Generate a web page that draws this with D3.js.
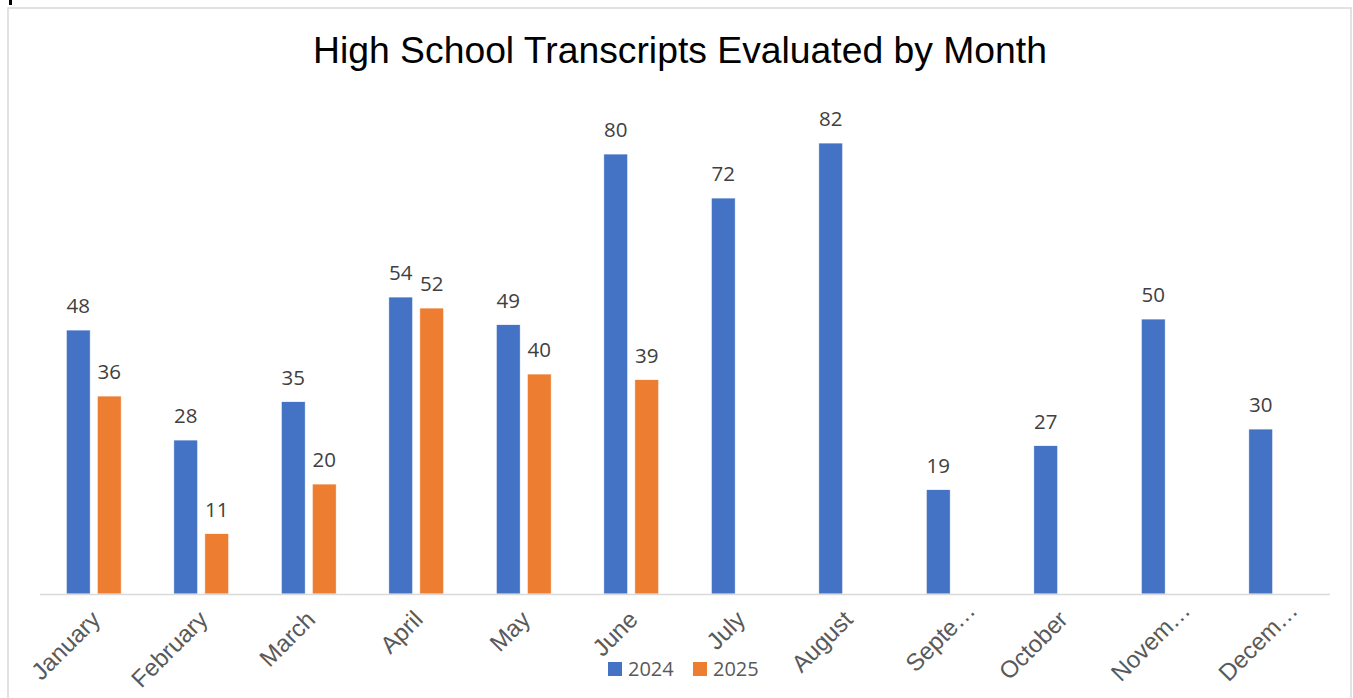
<!DOCTYPE html>
<html>
<head>
<meta charset="utf-8">
<script src="https://cdn.jsdelivr.net/npm/d3@7"></script>
<style>
  html, body { margin: 0; padding: 0; background: #fff; }
  svg { display: block; }
</style>
</head>
<body>
<svg id="chart" width="1353" height="698"></svg>
<script>
const months = ["January","February","March","April","May","June","July","August","Septe…","October","Novem…","Decem…"];
const series = ["2024","2025"];
const values2024 = [48,28,35,54,49,80,72,82,19,27,50,30];
const values2025 = [36,11,20,52,40,39,null,null,null,null,null,null];
const colors = ["#4472C4","#ED7D31"];
const title = "High School Transcripts Evaluated by Month";

const svg = d3.select("#chart");

// chart border
svg.append("rect").attr("x", 8).attr("y", 8).attr("width", 1343).attr("height", 700)
  .attr("fill", "#fff").attr("stroke", "#d9d9d9").attr("stroke-width", 1.5);
// small mark at top-left
svg.append("rect").attr("x", 9).attr("y", 0).attr("width", 3).attr("height", 5).attr("fill", "#000");

svg.append("text").attr("x", 680).attr("y", 63).attr("text-anchor", "middle")
  .attr("font-family", "'Liberation Sans', Arial, sans-serif").attr("font-size", 37.3)
  .attr("fill", "#000").text(title);

const x0 = 40, x1 = 1330, yBase = 594;
const x = d3.scaleBand().domain(months).range([x0, x1]).paddingInner(0).paddingOuter(0);
const y = d3.scaleLinear().domain([0, 90]).range([yBase, yBase - 495]);
const barW = 24, gap = 7;

const data = [values2024, values2025];
data.forEach((vals, si) => {
  const g = svg.append("g");
  months.forEach((m, i) => {
    const v = vals[i];
    if (v == null) return;
    const cx = x(m) + x.bandwidth() / 2;
    const bx = si === 0 ? cx - gap / 2 - barW : cx + gap / 2;
    g.append("rect").attr("x", bx).attr("y", y(v)).attr("width", barW)
      .attr("height", yBase - y(v)).attr("fill", colors[si])
      .attr("stroke", "#fff").attr("stroke-width", 0.75);
    g.append("text").attr("x", bx + barW / 2).attr("y", y(v) - 17)
      .attr("text-anchor", "middle").attr("font-family", "'Open Sans', sans-serif")
      .attr("font-size", 20.5).attr("fill", "#404040").text(v);
  });
});

// axis line
svg.append("line").attr("x1", x0).attr("x2", x1).attr("y1", yBase + 0.5).attr("y2", yBase + 0.5)
  .attr("stroke", "#d9d9d9").attr("stroke-width", 1.5);

// category labels
const axis = d3.axisBottom(x).tickSize(0).tickPadding(0);
const ag = svg.append("g").attr("transform", `translate(0,${yBase})`).call(axis);
ag.select(".domain").remove();
ag.selectAll(".tick text")
  .attr("font-family", "'Liberation Sans', Arial, sans-serif")
  .attr("font-size", 24).attr("fill", "#595959")
  .attr("text-anchor", "end")
  .attr("dy", 0)
  .attr("y", 0)
  .attr("transform", d => d.endsWith("…")
    ? "translate(23,18) rotate(-45)"
    : "translate(8,27) rotate(-45)");

// legend
const legend = svg.append("g");
const legX = [608, 693];
series.forEach((s, i) => {
  legend.append("rect").attr("x", legX[i]).attr("y", 662).attr("width", 14).attr("height", 14).attr("fill", colors[i]);
  legend.append("text").attr("x", legX[i] + 20).attr("y", 676)
    .attr("font-family", "'Open Sans', sans-serif").attr("font-size", 20)
    .attr("fill", "#595959").text(s);
});
</script>
</body>
</html>
